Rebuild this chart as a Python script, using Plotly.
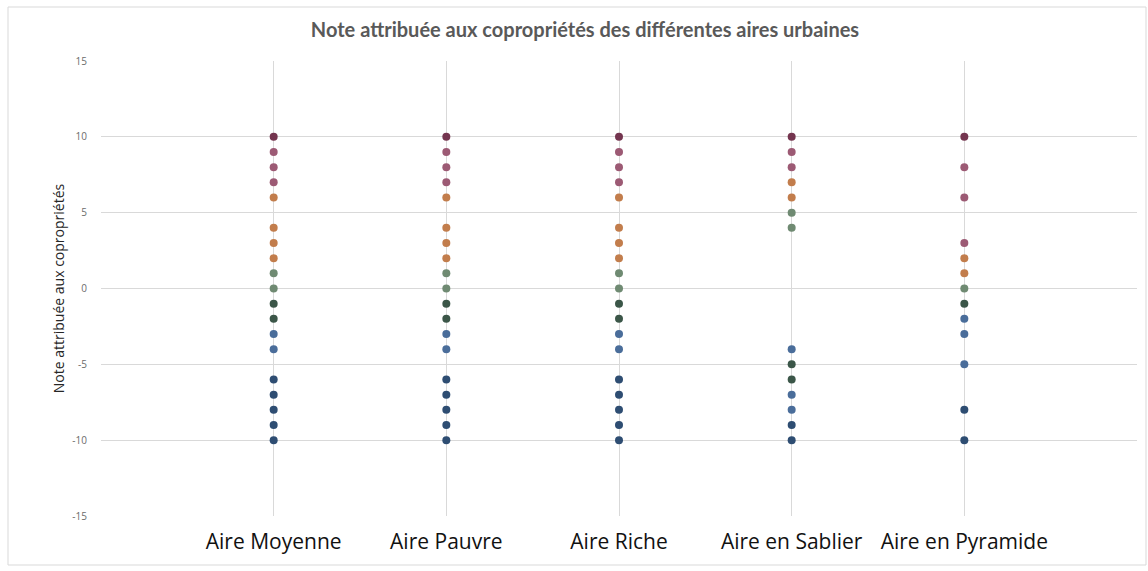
import plotly.graph_objects as go

# Urban areas (x categories)
areas = ["Aire Moyenne", "Aire Pauvre", "Aire Riche", "Aire en Sablier", "Aire en Pyramide"]

# Scores given to the condominiums of each area
notes_moyenne = [10, 9, 8, 7, 6, 4, 3, 2, 1, 0, -1, -2, -3, -4, -6, -7, -8, -9, -10]
notes_pauvre = [10, 9, 8, 7, 6, 4, 3, 2, 1, 0, -1, -2, -3, -4, -6, -7, -8, -9, -10]
notes_riche = [10, 9, 8, 7, 6, 4, 3, 2, 1, 0, -1, -2, -3, -4, -6, -7, -8, -9, -10]
notes_sablier = [10, 9, 8, 7, 6, 5, 4, -4, -5, -6, -7, -8, -9, -10]
notes_pyramide = [10, 8, 6, 3, 2, 1, 0, -1, -2, -3, -5, -8, -10]

# Colour group of each point
groups_moyenne = ["M", "P", "P", "P", "O", "O", "O", "O", "G", "G", "D", "D", "B", "B", "K", "K", "K", "K", "K"]
groups_pauvre = list(groups_moyenne)
groups_riche = list(groups_moyenne)
groups_sablier = ["M", "P", "P", "O", "O", "G", "G", "B", "D", "D", "B", "B", "K", "K"]
groups_pyramide = ["M", "P", "P", "P", "O", "O", "G", "D", "B", "B", "B", "K", "K"]

y_ticks = [-15, -10, -5, 0, 5, 10, 15]

palette = {
    "M": "#74354f",
    "P": "#9c5a74",
    "O": "#c27d4c",
    "G": "#6f8a72",
    "D": "#3b5648",
    "B": "#4a6d9a",
    "K": "#2e4d72",
}

series = [
    (notes_moyenne, groups_moyenne),
    (notes_pauvre, groups_pauvre),
    (notes_riche, groups_riche),
    (notes_sablier, groups_sablier),
    (notes_pyramide, groups_pyramide),
]

fig = go.Figure()
for i, (notes, groups) in enumerate(series):
    fig.add_trace(go.Scatter(
        x=[i] * len(notes),
        y=notes,
        mode="markers",
        marker=dict(size=8, color=[palette[g] for g in groups], line=dict(width=0)),
        showlegend=False,
        hoverinfo="x+y",
    ))

grid = "#d9d9d9"
fig.update_layout(
    width=1148,
    height=571,
    margin=dict(l=101, r=11, t=61, b=55),
    paper_bgcolor="white",
    plot_bgcolor="white",
    title=dict(
        text="Note attribuée aux copropriétés des différentes aires urbaines",
        x=585 / 1148, xanchor="center", y=0.947, yanchor="middle",
        font=dict(family="Lato", size=20, color="#595959", weight="bold"),
    ),
    xaxis=dict(
        range=[-1, 5],
        tickmode="array",
        tickvals=[-1, 0, 1, 2, 3, 4, 5],
        ticktext=[""] + areas + [""],
        showgrid=True,
        gridcolor=grid,
        gridwidth=1,
        zeroline=False,
        showline=False,
        ticks="",
        ticklabelstandoff=11,
        tickfont=dict(family="Open Sans", size=21, color="#111111"),
        fixedrange=True,
    ),
    yaxis=dict(
        range=[-15, 15],
        tickmode="array",
        tickvals=y_ticks,
        ticktext=[str(v) for v in y_ticks],
        showgrid=True,
        gridcolor=grid,
        gridwidth=1,
        zeroline=False,
        showline=False,
        ticks="",
        ticklabelstandoff=13,
        tickfont=dict(family="Open Sans", size=10, color="#6b6b6b"),
        title=dict(
            text="Note attribuée aux copropriétés",
            font=dict(family="Open Sans", size=14, color="#262626"),
            standoff=4,
        ),
        fixedrange=True,
    ),
    shapes=[
        dict(type="rect", xref="paper", yref="paper",
             x0=(8 - 101) / 1036, x1=(1146 - 101) / 1036,
             y0=(516 - 565) / 455, y1=(516 - 7) / 455,
             line=dict(color="#d9d9d9", width=1), fillcolor="rgba(0,0,0,0)", layer="below"),
    ],
)

fig.write_html("out.html")
